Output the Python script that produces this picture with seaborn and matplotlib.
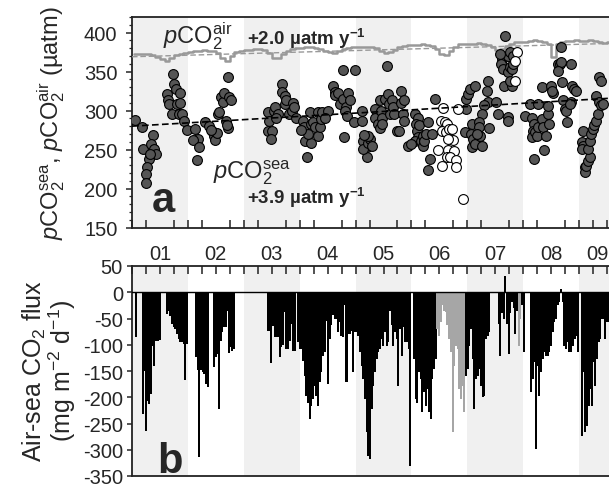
### Imports of the program
import matplotlib
matplotlib.use('Agg')
import matplotlib.pyplot as plt
import numpy as np
import pandas as pd
import seaborn as sns

### Data
## years shown on the x axis
year_labels = ['01', '02', '03', '04', '05', '06', '07', '08', '09']

## pCO2 sea, filled circles (decimal year, uatm)
sea_year = [2001.05, 2001.17, 2001.38, 2001.20, 2001.34, 2001.40, 2001.43, 2001.30, 2001.27, 2001.25, 2001.25, 2001.32,
            2001.62, 2001.64, 2001.74, 2001.76, 2001.78, 2001.86, 2001.67, 2001.80, 2001.86, 2001.72, 2001.84, 2001.90, 2001.93, 2001.98,
            2002.13, 2002.18, 2002.10, 2002.20, 2002.17, 2002.31, 2002.37, 2002.43, 2002.46, 2002.49, 2002.52, 2002.54, 2002.56,
            2002.60, 2002.63, 2002.65, 2002.68, 2002.72, 2002.74, 2002.77, 2002.72, 2002.70, 2002.41,
            2003.44, 2003.46, 2003.44, 2003.50, 2003.48, 2003.54, 2003.56, 2003.68, 2003.68, 2003.73, 2003.74, 2003.76, 2003.81,
            2003.87, 2003.88, 2003.90, 2003.93, 2003.62, 2003.58,
            2004.06, 2004.07, 2004.10, 2004.13, 2004.19, 2004.20, 2004.21, 2004.24, 2004.27, 2004.33, 2004.33, 2004.37, 2004.38,
            2004.40, 2004.60, 2004.64, 2004.63, 2004.68, 2004.78, 2004.99, 2004.79, 2004.73, 2004.77, 2004.83, 2004.81, 2004.85,
            2004.87, 2004.90, 2004.98, 2004.50, 2004.45, 2004.15, 2004.03,
            2005.14, 2005.20, 2005.20, 2005.14, 2005.22, 2005.26, 2005.23, 2005.16, 2005.11, 2005.11, 2005.56, 2005.35, 2005.35,
            2005.41, 2005.44, 2005.44, 2005.46, 2005.47, 2005.48, 2005.52, 2005.58, 2005.59, 2005.62, 2005.65, 2005.67, 2005.68,
            2005.74, 2005.77, 2005.82, 2005.82, 2005.86, 2005.84, 2005.86, 2005.94, 2005.30,
            2006.06, 2006.12, 2006.08, 2006.10, 2006.14, 2006.12, 2006.06, 2006.00, 2006.17, 2006.20, 2006.20, 2006.23, 2006.26,
            2006.33, 2006.30, 2006.30, 2006.36, 2006.42, 2006.96, 2006.98, 2006.98,
            2007.02, 2007.04, 2007.07, 2007.08, 2007.08, 2007.11, 2007.13, 2007.14, 2007.37, 2007.35, 2007.37, 2007.30, 2007.52,
            2007.55, 2007.72, 2007.72, 2007.27, 2007.20, 2007.20, 2007.23, 2007.26, 2007.38, 2007.18, 2007.67, 2007.62, 2007.60,
            2007.64, 2007.72, 2007.77, 2007.80, 2007.82, 2007.72, 2007.77, 2007.82, 2007.65, 2007.80, 2007.77, 2007.58,
            2008.03, 2008.12, 2008.15, 2008.19, 2008.18, 2008.15, 2008.21, 2008.24, 2008.27, 2008.27, 2008.33, 2008.35, 2008.41,
            2008.38, 2008.47, 2008.44, 2008.44, 2008.33, 2008.20, 2008.50, 2008.53, 2008.52, 2008.63, 2008.66, 2008.68, 2008.68,
            2008.63, 2008.70, 2008.86, 2008.72, 2008.74, 2008.79, 2008.76, 2008.86, 2008.88, 2008.91, 2008.94, 2008.83,
            2009.07, 2009.05, 2009.07, 2009.05, 2009.11, 2009.11, 2009.13, 2009.16, 2009.19, 2009.16, 2009.19, 2009.22, 2009.24,
            2009.27, 2009.30, 2009.33, 2009.30, 2009.36, 2009.39, 2009.43, 2009.36, 2009.39]
sea_val = [288, 279, 269, 251, 257, 251, 244, 238, 228, 219, 207, 244,
           321, 313, 347, 334, 328, 322, 308, 309, 310, 295, 295, 295, 287, 275,
           276, 263, 262, 253, 236, 285, 280, 274, 268, 262, 271, 295, 298,
           317, 311, 322, 287, 343, 318, 314, 278, 282, 275,
           298, 287, 274, 274, 263, 300, 304, 334, 324, 319, 309, 313, 295,
           300, 310, 304, 290, 296, 290,
           287, 279, 261, 240, 298, 283, 259, 285, 279, 298, 268, 279, 289,
           298, 332, 324, 320, 322, 352, 352, 266, 309, 315, 305, 299, 293,
           322, 313, 285, 300, 290, 270, 275,
           261, 253, 240, 251, 259, 263, 268, 269, 287, 300, 357, 302, 291,
           283, 277, 313, 300, 291, 283, 315, 321, 309, 295, 313, 304, 295,
           274, 274, 325, 310, 313, 295, 287, 255, 255,
           295, 291, 283, 274, 281, 266, 261, 257, 261, 255, 268, 261, 270,
           238, 224, 285, 270, 315, 272, 315, 302,
           321, 328, 270, 283, 253, 263, 257, 332, 338, 325, 311, 307, 311,
           296, 292, 287, 296, 285, 279, 268, 255, 277, 270, 396, 366, 360,
           353, 350, 356, 353, 360, 370, 375, 370, 332, 332, 338, 372,
           293, 308, 291, 283, 274, 266, 272, 268, 308, 279, 289, 279, 268,
           250, 283, 296, 306, 330, 238, 332, 322, 325, 360, 360, 362, 381,
           351, 337, 360, 313, 302, 285, 300, 311, 332, 328, 325, 309,
           274, 260, 255, 251, 227, 221, 229, 235, 240, 251, 261, 270, 276,
           281, 287, 296, 319, 311, 307, 309, 343, 338]

## pCO2 sea, open circles
open_year = [2006.57, 2006.52, 2006.60, 2006.63, 2006.55, 2006.61, 2006.67, 2006.73, 2006.75, 2006.65, 2006.48,
             2006.65, 2006.77, 2006.63, 2006.69, 2006.80, 2006.80, 2006.55, 2006.93, 2006.83,
             2007.88, 2007.86, 2007.86]
open_val = [303, 287, 285, 283, 274, 272, 276, 276, 262, 263, 250,
            249, 248, 241, 240, 237, 227, 229, 186, 302,
            375, 363, 338]

## pCO2 air, monthly
air_2001 = [372, 372, 373, 372, 371, 369, 366, 363, 367, 371, 373, 374]
air_2002 = [375, 376, 377, 378, 377, 376, 374, 368, 364, 370, 375, 377]
air_2003 = [378, 378, 379, 379, 378, 374, 367, 368, 373, 377, 379, 380]
air_2004 = [380, 381, 381, 380, 379, 377, 375, 374, 377, 379, 380, 381]
air_2005 = [382, 382, 382, 381, 380, 377, 374, 375, 378, 381, 383, 384]
air_2006 = [384, 384, 385, 384, 383, 379, 372, 371, 377, 382, 385, 386]
air_2007 = [386, 386, 387, 386, 384, 381, 378, 379, 383, 386, 388, 388]
air_2008 = [388, 389, 390, 389, 388, 386, 369, 386, 388, 389, 389, 390]
air_2009 = [389, 389, 390, 389, 388, 387, 388]

## linear trends (value at 2001.0 and 2009.6)
trend_years = [2001.0, 2009.6]
air_trend = [369.0, 386.2]
sea_trend = [280.0, 316.0]

## air-sea CO2 flux (mg m-2 d-1), runs of consecutive values
flux_starts = [2001.054, 2001.174, 2001.608, 2002.127, 2002.449, 2003.415, 2003.950,
               2006.027, 2006.447, 2006.957, 2007.542, 2007.902, 2007.962, 2008.120, 2009.032]
flux_01a = [-86]
flux_01b = [-232, -150, -264, -207, -213, -194, -102, -140, -92, -92, -90]
flux_01c = [-42, -35, -45, -60, -67, -70, -80, -89, -95, -95, -99, -168, -99]
flux_02a = [-124, -149, -314, -149, -152, -156, -175, -181]
flux_02b = [-143, -124, -118, -222, -92, -76, -67, -67, -35, -115, -105, -111, -108]
flux_03a = [-73, -73, -134, -64, -86, -86, -86, -124, -105, -100, -38, -108, -108, -92, -60, -111, -111]
flux_0405 = [-95, -108,
             -108, -130, -159, -197, -210, -241, -216, -203, -178, -197, -216, -171, -152, -121, -114, -54,
             -175, -89, -63, -44, -51, -51, -76, -57, -83, -86, -25, -171, -79, -79, -73, -152, -76, -76,
             -83, -114, -140, -165, -203, -267, -311, -317, -222, -178, -152, -127, -114, -108, -89, -102,
             -76, -102, -95, -35, -63, -102, -76, -89, -178, -70, -121, -67, -95, -95, -108, -330]
flux_06a = [-127, -203, -210, -152, -165, -229, -190, -216, -184, -229, -241, -165, -146, -127]
flux_06_grey = [-70, -83, -57, -25, -35, -38, -63, -89, -114, -267, -140, -102, -108, -184, -203, -178, -229]
flux_06b = [-159, -146, -102, -70, -127, -222, -165, -159, -146, -178, -200, -197, -89, -83, -75]
flux_07a = [-60, -121, -40, -50, 31, -60, -117, -40, -19, -30, -80, -35]
flux_07_grey = [-102, -50]
flux_07b = [-25, -114]
flux_08 = [-190, -165, -133, -298, -140, -197, -152, -127, -114, -121, -121, -114, -102, -76, -57,
           -51, -25, -19, 6, -19, -102, -108, -95, -114, -114, -102, -89, -83, -114]
flux_09 = [-273, -152, -267, -254, -216, -184, -216, -133, -178, -127, -95, -89, -51, -51, -89, -57, -57]


def main():
    """
    Builds the two panel figure and saves it as out.png
    :return: None
    """
    sns.set_theme(style='ticks')
    plt.rcParams['font.family'] = ['Liberation Sans', 'DejaVu Sans']
    plt.rcParams['mathtext.fontset'] = 'custom'
    plt.rcParams['mathtext.rm'] = 'Liberation Sans'
    plt.rcParams['mathtext.it'] = 'Liberation Sans:italic'
    plt.rcParams['mathtext.bf'] = 'Liberation Sans:bold'
    plt.rcParams['axes.unicode_minus'] = False

    fig = plt.figure(figsize=(6.09, 4.89), dpi=100)
    ## right edge of the axes runs past the figure, like the reference crop
    ax1 = fig.add_axes([132 / 609, 1 - 228.5 / 489, 503 / 609, 210.5 / 489])
    ax2 = fig.add_axes([132 / 609, 1 - 477 / 489, 503 / 609, 210 / 489])

    first = 2001
    for ax in (ax1, ax2):
        for k in range(len(year_labels) + 1):
            if k % 2 == 0:
                ax.axvspan(first + k, first + k + 1, color='#f0f0f0', lw=0, zorder=0)
        ax.set_xlim(first, first + 9)
        for s in ax.spines.values():
            s.set_linewidth(1.3)
            s.set_color('#222222')

    ## ---- panel a ----
    air = air_2001 + air_2002 + air_2003 + air_2004 + air_2005 + air_2006 + air_2007 + air_2008 + air_2009
    air_df = pd.DataFrame({'year': first + (np.arange(len(air)) + 0.5) / 12, 'pco2': air})
    sns.lineplot(data=air_df, x='year', y='pco2', ax=ax1, color='#999999', lw=1.8,
                 drawstyle='steps-mid', zorder=3)
    ax1.plot(trend_years, air_trend, color='#999999', lw=1.0, ls=(0, (4, 2)), zorder=3)

    sea_df = pd.DataFrame({'year': sea_year, 'pco2': sea_val})
    open_df = pd.DataFrame({'year': open_year, 'pco2': open_val})
    sns.scatterplot(data=sea_df, x='year', y='pco2', ax=ax1, s=50, color='#555555',
                    edgecolor='black', linewidth=0.8, zorder=4)
    sns.scatterplot(data=open_df, x='year', y='pco2', ax=ax1, s=50, color='white',
                    edgecolor='black', linewidth=0.8, zorder=4)
    ax1.plot(trend_years, sea_trend, color='black', lw=1.2, ls=(0, (4, 2)), zorder=5)

    ax1.set_ylim(150, 420)
    ax1.set_yticks(np.arange(150, 401, 50))
    ax1.set_yticks(np.arange(150, 421, 10), minor=True)
    ax1.set_xticks(np.arange(first, first + 9.01, 0.25), minor=True)
    label_pos = np.arange(len(year_labels)) + first + 0.5
    label_pos[-1] -= 0.18  # last label nudged left so it stays inside the crop
    ax1.set_xticks(label_pos)
    ax1.set_xticklabels(year_labels)
    ax1.tick_params(axis='x', which='major', length=0, pad=12, labelsize=14.5)
    ax1.tick_params(axis='x', which='minor', direction='in', length=5.5, width=1.1, color='#222222')
    ax1.tick_params(axis='y', which='major', direction='out', length=4.5, width=1.1, pad=6, labelsize=14.5)
    ax1.tick_params(axis='y', which='minor', direction='out', length=2.5, width=0.9)
    ax1.spines['right'].set_visible(False)
    ax1.set_xlabel('')
    ax1.set_ylabel(r'$p$CO$_2^{\rm sea}$, $p$CO$_2^{\rm air}$ (µatm)', fontsize=17)
    ax1.yaxis.label.set_va('center')
    ax1.yaxis.set_label_coords(-0.161, 0.5)

    ax1.text(2001.555, 387.5, r'$p$CO$_2^{\rm air}$', fontsize=17, ha='left', va='baseline', zorder=6)
    ax1.text(2003.057, 386, r'+2.0 µatm y$^{\mathbf{-1}}$', fontsize=13.5, fontweight='bold',
             ha='left', va='baseline', zorder=6)
    ax1.text(2002.45, 214.7, r'$p$CO$_2^{\rm sea}$', fontsize=17, ha='left', va='baseline', zorder=6)
    ax1.text(2003.057, 182, r'+3.9 µatm y$^{\mathbf{-1}}$', fontsize=13.5, fontweight='bold',
             ha='left', va='baseline', zorder=6)
    ax1.text(2001.36, 171, 'a', fontsize=30, fontweight='bold', ha='left', va='baseline', zorder=6)

    ## ---- panel b ----
    runs = [flux_01a, flux_01b, flux_01c, flux_02a, flux_02b, flux_03a, flux_0405,
            flux_06a, flux_06_grey, flux_06b, flux_07a, flux_07_grey, flux_07b, flux_08, flux_09]
    greys = [flux_06_grey, flux_07_grey]
    step = 0.03
    for start, vals in zip(flux_starts, runs):
        colour = '#a6a6a6' if any(vals is g for g in greys) else 'black'
        xs = start + step * np.arange(len(vals))
        ## slightly wider than the step so neighbouring bars join without seams
        ax2.bar(xs, vals, width=step * 1.2, align='edge', color=colour, linewidth=0,
                antialiased=False, zorder=3)
    ax2.axhline(0, color='black', lw=1.0, zorder=4)

    ax2.set_ylim(-350, 50)
    ax2.set_yticks(np.arange(-350, 51, 50))
    ax2.set_xticks([])
    ax2.set_xticks(np.arange(first, first + 9.01, 0.25), minor=True)
    ax2.tick_params(axis='x', which='minor', direction='in', top=True, bottom=False, length=5.5,
                    width=1.1, color='#222222')
    ax2.tick_params(axis='y', which='major', direction='out', length=3.5, width=1.1, pad=3, labelsize=14.5)
    ax2.spines['right'].set_visible(False)
    ax2.set_ylabel('Air-sea CO$_2$ flux\n(mg m$^{-2}$ d$^{-1}$)', fontsize=18, linespacing=0.95)
    ax2.yaxis.label.set_va('center')
    ax2.yaxis.set_label_coords(-0.165, 0.505)
    ax2.text(2001.447, -342, 'b', fontsize=30, fontweight='bold', ha='left', va='baseline', zorder=6)

    fig.savefig('out.png', dpi=100)


### Runs the main function
if __name__ == '__main__':
    main()
